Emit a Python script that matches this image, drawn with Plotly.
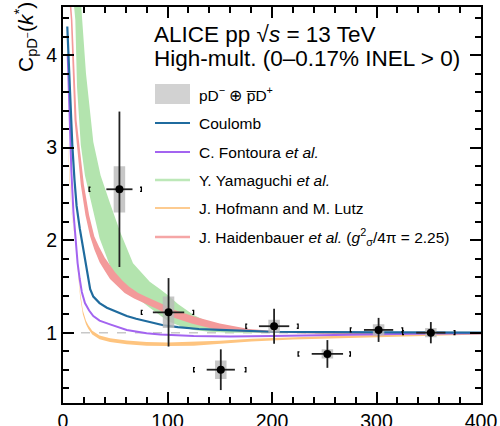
import plotly.graph_objects as go

# ---------------- data ----------------
# measured correlation function
k_data = [54, 101, 151, 202, 253, 302, 352]
c_data = [2.55, 1.22, 0.60, 1.07, 0.77, 1.03, 1.00]
stat_err = [0.84, 0.37, 0.22, 0.19, 0.15, 0.13, 0.115]
k_err = [12.5, 15, 13.5, 14.5, 15, 14, 14]
sys_err = [0.25, 0.17, 0.10, 0.07, 0.05, 0.06, 0.05]
bin_lo = [25, 75, 125, 175, 225, 275, 325]
bin_hi = [75, 125, 175, 225, 275, 325, 375]

# Coulomb
coul_k = [4.1, 6, 8.9, 11, 13, 16, 18, 20, 22, 24, 26, 29, 35, 42, 50, 61, 70, 80, 96, 110, 130, 150, 175, 200, 250, 300, 350, 400]
coul_c = [4.31, 3.75, 3.03, 2.65, 2.37, 2.13, 2.0, 1.86, 1.72, 1.57, 1.47, 1.39, 1.32, 1.27, 1.23, 1.18, 1.15, 1.12, 1.08, 1.06, 1.04, 1.03, 1.02, 1.01, 1.005, 1.003, 1.002, 1.001]

# C. Fontoura et al.
font_k = [4.5, 6, 8, 10, 12, 14, 16, 18, 21, 25, 29, 35, 45, 61, 80, 93, 125, 160, 200, 250, 300, 350, 400]
font_c = [4.0, 3.4, 2.75, 2.3, 1.98, 1.75, 1.58, 1.44, 1.32, 1.24, 1.18, 1.13, 1.09, 1.03, 0.995, 0.98, 0.965, 0.96, 0.965, 0.975, 0.985, 0.99, 0.995]

# Y. Yamaguchi et al. (band edges)
yama_hi_k = [17, 22, 29, 36, 45, 55, 67, 83, 93, 101, 110, 125, 140, 160, 180, 200, 250, 300, 400]
yama_hi_c = [4.6, 3.8, 3.06, 2.7, 2.40, 2.08, 1.75, 1.55, 1.47, 1.40, 1.31, 1.19, 1.11, 1.055, 1.03, 1.015, 1.003, 1.0, 1.0]
yama_lo_k = [10, 11.8, 13.4, 17, 21, 27.5, 35, 45, 55, 65, 83, 101, 115, 125, 140, 160, 200, 300, 400]
yama_lo_c = [4.6, 4.38, 3.66, 3.03, 2.7, 2.37, 2.02, 1.72, 1.55, 1.43, 1.27, 1.12, 1.06, 1.03, 1.01, 1.0, 1.0, 1.0, 1.0]

# J. Hofmann and M. Lutz (band)
hof_k = [4.8, 6.5, 8.3, 10.5, 12.5, 14.5, 16.3, 19, 22, 24.3, 28, 35, 45, 61, 80, 100, 125, 150, 180, 220, 265, 300, 350, 400]
hof_hi = [3.06, 2.63, 2.31, 2.11, 1.95, 1.67, 1.44, 1.24, 1.13, 1.08, 1.02, 0.97, 0.94, 0.915, 0.9, 0.895, 0.9, 0.913, 0.935, 0.953, 0.966, 0.975, 0.983, 0.99]
hof_lo = [3.04, 2.61, 2.29, 2.09, 1.93, 1.63, 1.40, 1.20, 1.09, 1.04, 0.98, 0.93, 0.90, 0.875, 0.86, 0.855, 0.86, 0.877, 0.905, 0.927, 0.944, 0.955, 0.967, 0.98]

# J. Haidenbauer et al. (band edges)
haid_hi_k = [7.5, 9, 13, 16.5, 20, 25, 30, 34.5, 40, 45, 50, 57, 63, 72, 79, 95, 103, 111, 127, 150, 178, 200, 250, 300, 350, 400]
haid_hi_c = [4.6, 4.38, 3.30, 2.95, 2.6, 2.27, 2.04, 1.93, 1.81, 1.73, 1.65, 1.56, 1.50, 1.43, 1.39, 1.31, 1.26, 1.23, 1.17, 1.10, 1.04, 1.02, 1.002, 0.995, 0.99, 0.995]
haid_lo_k = [6, 7.5, 11, 14, 17, 21.5, 26, 30, 35, 40, 45, 53, 59, 68, 75, 91, 99, 107, 123, 144, 172, 200, 250, 300, 350, 400]
haid_lo_c = [4.6, 4.38, 3.30, 2.95, 2.6, 2.27, 2.04, 1.90, 1.76, 1.67, 1.58, 1.49, 1.43, 1.37, 1.33, 1.25, 1.20, 1.16, 1.10, 1.04, 1.01, 1.0, 0.988, 0.983, 0.98, 0.985]

x_ticks = [0, 100, 200, 300, 400]
y_ticks = [1, 2, 3, 4]

# ---------------- styles ----------------
BLUE = "#1f6b9e"
PURPLE = "#a364f0"
GREEN = "#b3e4ae"
ORANGE = "#fec47f"
PINK = "#f39a9a"
FONT = "Liberation Sans, Arial, sans-serif"

W, H = 500, 426
ML, MR, MT, MB = 63, 19, 7, 23
PW, PH = W - ML - MR, H - MT - MB


def px(xp):
    return (xp - ML) / PW


def py(yp):
    return (H - MB - yp) / PH


fig = go.Figure()


def band(hk, hc, lk, lc, color):
    fig.add_trace(go.Scatter(
        x=list(hk) + list(lk)[::-1], y=list(hc) + list(lc)[::-1],
        fill="toself", fillcolor=color, mode="lines",
        line=dict(width=0, color=color), hoverinfo="skip", showlegend=False))


band(yama_hi_k, yama_hi_c, yama_lo_k, yama_lo_c, GREEN)
band(hof_k, hof_hi, hof_k, hof_lo, ORANGE)
band(haid_hi_k, haid_hi_c, haid_lo_k, haid_lo_c, PINK)

fig.add_trace(go.Scatter(x=font_k, y=font_c, mode="lines",
                         line=dict(color=PURPLE, width=2), showlegend=False))
fig.add_trace(go.Scatter(x=coul_k, y=coul_c, mode="lines",
                         line=dict(color=BLUE, width=2.2), showlegend=False))

# systematic boxes
bx, by = [], []
for k, c, s in zip(k_data, c_data, sys_err):
    hw = 5.5
    bx += [k - hw, k + hw, k + hw, k - hw, k - hw, None]
    by += [c - s, c - s, c + s, c + s, c - s, None]
fig.add_trace(go.Scatter(x=bx, y=by, fill="toself", fillcolor="rgba(185,185,185,0.8)",
                         mode="lines", line=dict(width=0), showlegend=False, hoverinfo="skip"))

# brackets at bin edges
qx, qy = [], []
d, h = 1.3, 0.022
for lo, hi, c in zip(bin_lo, bin_hi, c_data):
    qx += [lo + d, lo, lo, lo + d, None, hi - d, hi, hi, hi - d, None]
    qy += [c + h, c + h, c - h, c - h, None, c + h, c + h, c - h, c - h, None]
fig.add_trace(go.Scatter(x=qx, y=qy, mode="lines", line=dict(color="black", width=1.3),
                         showlegend=False, hoverinfo="skip"))

# data points
fig.add_trace(go.Scatter(
    x=k_data, y=c_data, mode="markers",
    marker=dict(color="black", size=8),
    error_y=dict(type="data", array=stat_err, width=0, thickness=1.8, color="#222"),
    error_x=dict(type="data", array=k_err, width=0, thickness=1.8, color="#222"),
    showlegend=False))

# reference line at 1
fig.add_shape(type="line", xref="x", yref="y", x0=0, x1=400, y0=1, y1=1,
              line=dict(color="#c8c8c8", width=1.5, dash="dash"), layer="below")

# ---------------- legend (manual) ----------------
rows = [94, 123, 152, 180, 208, 237]
labels = [
    "pD<sup>\u2212</sup> \u2295 p\u0305D<sup>+</sup>",
    "Coulomb",
    "C. Fontoura <i>et al.</i>",
    "Y. Yamaguchi <i>et al.</i>",
    "J. Hofmann and M. Lutz",
    "J. Haidenbauer <i>et al.</i> (<i>g</i><sup>2</sup><sub>\u03c3</sub>/4\u03c0 = 2.25)",
]
fig.add_shape(type="rect", xref="paper", yref="paper", x0=px(155), x1=px(190),
              y0=py(104), y1=py(84), fillcolor="#d2d2d2", line=dict(width=0))
fig.add_trace(go.Scatter(x=[px(172.5)], y=[py(94)], xaxis="x2", yaxis="y2", mode="markers",
                         marker=dict(color="black", size=7), showlegend=False, hoverinfo="skip"))
line_styles = [(BLUE, 2.2), (PURPLE, 2), ("#bde8b8", 2.5), ("#fdcb90", 2.2), ("#f5a6a6", 2.5)]
for yy, (col, wdt) in zip(rows[1:], line_styles):
    fig.add_shape(type="line", xref="paper", yref="paper", x0=px(155), x1=px(190),
                  y0=py(yy), y1=py(yy), line=dict(color=col, width=wdt))
for yy, lab in zip(rows, labels):
    fig.add_annotation(xref="paper", yref="paper", x=px(197), y=py(yy), text=lab,
                       showarrow=False, xanchor="left", yanchor="middle",
                       font=dict(family=FONT, size=15.5, color="black"))

fig.add_annotation(xref="paper", yref="paper", x=px(152), y=py(34),
                   text="ALICE pp \u221a<i>s</i> = 13 TeV", showarrow=False,
                   xanchor="left", yanchor="middle", font=dict(family=FONT, size=22.5, color="black"))
fig.add_annotation(xref="paper", yref="paper", x=px(152), y=py(59),
                   text="High-mult. (0\u20130.17% INEL > 0)", showarrow=False,
                   xanchor="left", yanchor="middle", font=dict(family=FONT, size=22.5, color="black"))

# y title
fig.add_annotation(xref="paper", yref="paper", x=px(26), y=py(0), textangle=-90,
                   text="C<sub>pD<sup>\u2212</sup></sub>(<i>k</i><sup>*</sup>)", showarrow=False,
                   xanchor="center", yanchor="top", font=dict(family=FONT, size=21, color="black"))

axis_common = dict(showgrid=False, zeroline=False, showline=True, linecolor="black",
                   linewidth=2, mirror="allticks", ticks="inside", tickcolor="black",
                   tickwidth=1.5, automargin=False,
                   tickfont=dict(family=FONT, size=19.5, color="black"))
fig.update_layout(
    width=W, height=H, margin=dict(l=ML, r=MR, t=MT, b=MB, autoexpand=False),
    paper_bgcolor="white", plot_bgcolor="white", showlegend=False,
    xaxis=dict(range=[0, 400], tickvals=x_ticks, ticklen=11,
               minor=dict(ticks="inside", dtick=20, ticklen=6, tickcolor="black", tickwidth=1.5),
               **axis_common),
    yaxis=dict(range=[0.24, 4.52], tickvals=y_ticks, ticklen=11,
               minor=dict(ticks="inside", dtick=0.2, tick0=0, ticklen=6, tickcolor="black", tickwidth=1.5),
               **axis_common),
    xaxis2=dict(range=[0, 1], domain=[0, 1], visible=False, overlaying="x"),
    yaxis2=dict(range=[0, 1], domain=[0, 1], visible=False, overlaying="y"),
)

fig.write_html("out.html")
